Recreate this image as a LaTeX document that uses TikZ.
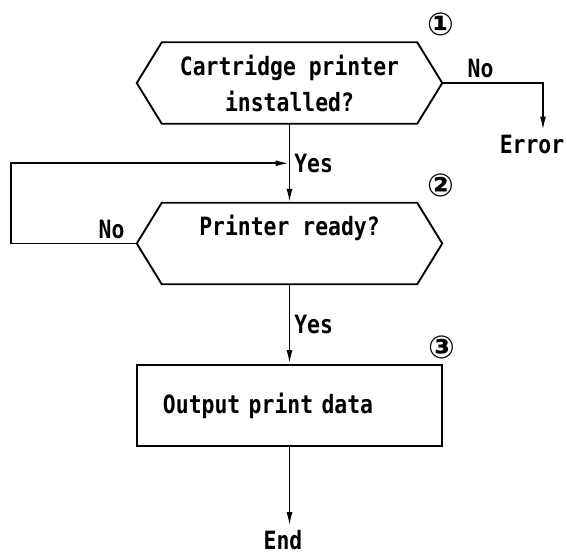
\documentclass[tikz,border=0pt]{standalone}
\usepackage{fontspec}
\usetikzlibrary{arrows.meta,positioning,calc}
\newfontfamily\chartfont[FakeStretch=0.85]{DejaVu Sans Mono}
\newfontfamily\markfont{DejaVu Sans}

% hexagon outline round a decision node, with its two side points
\newcommand\drawhex[1]{%
  \coordinate (#1-r) at ($(#1.east)+(25,0)$);
  \coordinate (#1-l) at ($(#1.west)+(-25,0)$);
  \draw[outline] (#1.north west) -- (#1.north east) -- (#1-r)
    -- (#1.south east) -- (#1.south west) -- (#1-l) -- cycle;}

\begin{document}
\begin{tikzpicture}[x=0.03cm,y=-0.03cm,
  every node/.style={font=\chartfont\bfseries\fontsize{21.5}{30.7}\selectfont},
  outline/.style={line width=1.6pt,line join=miter},
  hexbox/.style={minimum width=7.65cm,minimum height=2.43cm,align=center,inner sep=0pt},
  procbox/.style={draw,line width=1.6pt,minimum width=9.15cm,minimum height=2.43cm,
    text width=7.59cm,inner xsep=0.78cm,align=left},
  flow/.style={-{Latex[length=0.42cm,width=0.18cm]},line width=1.6pt},
  stepnum/.style={font=\markfont\bfseries\fontsize{27}{30}\selectfont}]
  \useasboundingbox (0,0) rectangle (567,556);

  \node[hexbox] (h1) at (289.5,83) {Cartridge printer\\installed?};
  \node[hexbox] (h2) at (289.5,243.5) {Printer ready?\\\mbox{}};
  \node[procbox] (out) at (289.5,405.5) {Output print data};
  \drawhex{h1}
  \drawhex{h2}

  \node (err) at (532,144) {Error};
  \node (end) at (283,540) {End};

  \node[stepnum] (n1) at (441,24) {①};
  \node[stepnum] (n2) at (441,185) {②};
  \node[stepnum] (n3) at (442,347) {③};

  \draw[flow] (h1.south) -- node[right] (yes1) {Yes} (h2.north);
  \draw[flow] (h1-r) -| node[above,pos=0.19] (no1) {No} ($(err.north)+(11,0)$);
  \draw[flow] (h2-l) -- node[above,pos=0.2] (no2) {No} ++(-126,0)
    |- ($(h1.south)!0.5!(h2.north)$);
  \draw[flow] (h2.south) -- node[right] (yes2) {Yes} (out.north);
  \draw[flow] (out.south) -- (out.south |- end.north);
\end{tikzpicture}
\end{document}
